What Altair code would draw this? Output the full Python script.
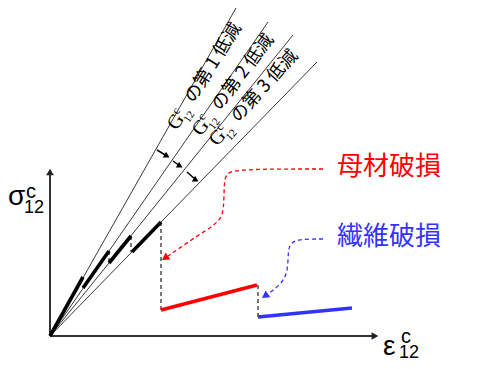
import altair as alt
import pandas as pd

# ---- data (origin of the sketch at 0,0; units ~ pixels) ----
ray_x = [186, 218, 243, 267]
ray_y = [328, 314, 301, 274]

seg_x0 = [0, 33, 59, 82]
seg_y0 = [0, 48, 73, 84]
seg_x1 = [33, 59, 81, 111]
seg_y1 = [59, 85, 100, 114]

drop_x = [59, 81, 111, 208]
drop_top = [85, 100, 114, 51]
drop_bot = [73, 84, 26, 19]

red_x = [111, 207]
red_y = [26, 51]
blue_x = [208, 302]
blue_y = [19, 28]

arr_x0 = [107, 123, 137]
arr_y0 = [186, 175, 164]
arr_x1 = [117, 130, 146]
arr_y1 = [180, 170, 156]

red_lead_x = [273, 185, 176, 174, 174, 170, 160, 150, 118]
red_lead_y = [167, 167, 162, 153, 126, 116, 108, 102, 80]
red_tip = (115, 78)
blue_lead_x = [273, 247, 240, 238, 238, 233, 222, 217]
blue_lead_y = [97, 97, 92, 84, 66, 54, 45, 41]
blue_tip = (215, 40)

label_x = [127, 151, 167]
label_y = [205, 199, 189]
label_angle = [302, 307, 312]
label_rest = ["の第 1 低減", "の第 2 低減", "の第 3 低減"]

RED = "#ff0000"
BLUE = "#3333ff"

xs = alt.Scale(domain=[-42, 429], nice=False, zero=False)
ys = alt.Scale(domain=[-25, 328], nice=False, zero=False)


def X(f="x"):
    return alt.X(f"{f}:Q", scale=xs, axis=None)


def Y(f="y"):
    return alt.Y(f"{f}:Q", scale=ys, axis=None)


rays = pd.DataFrame({"x": [0] * 4, "y": [0] * 4, "x2": ray_x, "y2": ray_y})
ray_layer = alt.Chart(rays).mark_rule(color="#222", strokeWidth=0.9).encode(
    x=X(), y=Y(), x2="x2:Q", y2="y2:Q")

segs = pd.DataFrame({"x": seg_x0, "y": seg_y0, "x2": seg_x1, "y2": seg_y1})
seg_layer = alt.Chart(segs).mark_rule(color="black", strokeWidth=3.6).encode(
    x=X(), y=Y(), x2="x2:Q", y2="y2:Q")

drops = pd.DataFrame({"x": drop_x, "y": drop_top, "y2": drop_bot})
drop_layer = alt.Chart(drops).mark_rule(color="#333", strokeWidth=1.3, strokeDash=[4, 3]).encode(
    x=X(), y=Y(), y2="y2:Q")

red = pd.DataFrame({"x": [red_x[0]], "y": [red_y[0]], "x2": [red_x[1]], "y2": [red_y[1]]})
red_layer = alt.Chart(red).mark_rule(color=RED, strokeWidth=3.6).encode(
    x=X(), y=Y(), x2="x2:Q", y2="y2:Q")
blue = pd.DataFrame({"x": [blue_x[0]], "y": [blue_y[0]], "x2": [blue_x[1]], "y2": [blue_y[1]]})
blue_layer = alt.Chart(blue).mark_rule(color=BLUE, strokeWidth=3.6).encode(
    x=X(), y=Y(), x2="x2:Q", y2="y2:Q")

# axes
axes = pd.DataFrame({"x": [0, 0], "y": [0, 0], "x2": [0, 322], "y2": [162, 0]})
axis_layer = alt.Chart(axes).mark_rule(color="#333", strokeWidth=2).encode(
    x=X(), y=Y(), x2="x2:Q", y2="y2:Q")
yhead = alt.Chart(pd.DataFrame({"x": [0], "y": [164]})).mark_point(
    shape="triangle-up", filled=True, size=60, color="#222", opacity=1).encode(x=X(), y=Y())
xhead = alt.Chart(pd.DataFrame({"x": [325], "y": [0]})).mark_point(
    shape="triangle-right", filled=True, size=60, color="#222", opacity=1).encode(x=X(), y=Y())

# small black arrows between rays
arrs = pd.DataFrame({"x": arr_x0, "y": arr_y0, "x2": arr_x1, "y2": arr_y1})
arr_layer = alt.Chart(arrs).mark_rule(color="black", strokeWidth=1.5).encode(
    x=X(), y=Y(), x2="x2:Q", y2="y2:Q")
arr_heads = alt.Chart(pd.DataFrame({"x": arr_x1, "y": arr_y1})).mark_point(
    shape="triangle-up", angle=120, filled=True, size=45, color="black", opacity=1).encode(x=X(), y=Y())

# leaders
rl = pd.DataFrame({"x": red_lead_x, "y": red_lead_y, "o": range(len(red_lead_x))})
red_lead = alt.Chart(rl).mark_line(color=RED, strokeWidth=1.3, strokeDash=[4, 3], interpolate="basis").encode(
    x=X(), y=Y(), order="o:Q")
red_head = alt.Chart(pd.DataFrame({"x": [red_tip[0]], "y": [red_tip[1]]})).mark_point(
    shape="triangle-up", angle=236, filled=True, size=70, color=RED, opacity=1).encode(x=X(), y=Y())
bl = pd.DataFrame({"x": blue_lead_x, "y": blue_lead_y, "o": range(len(blue_lead_x))})
blue_lead = alt.Chart(bl).mark_line(color=BLUE, strokeWidth=1.3, strokeDash=[4, 3], interpolate="basis").encode(
    x=X(), y=Y(), order="o:Q")
blue_head = alt.Chart(pd.DataFrame({"x": [blue_tip[0]], "y": [blue_tip[1]]})).mark_point(
    shape="triangle-up", angle=235, filled=True, size=70, color=BLUE, opacity=1).encode(x=X(), y=Y())


def txt(df, **kw):
    return alt.Chart(df).mark_text(**kw).encode(x=X(), y=Y(), text="t:N")


red_txt = txt(pd.DataFrame({"x": [287], "y": [169], "t": ["母材破損"]}),
              font="Noto Sans CJK JP", fontSize=26, color=RED, align="left", baseline="middle")
blue_txt = txt(pd.DataFrame({"x": [287], "y": [99], "t": ["繊維破損"]}),
               font="Noto Sans CJK JP", fontSize=26, color=BLUE, align="left", baseline="middle")

# axis titles
sig = txt(pd.DataFrame({"x": [-42], "y": [131], "t": ["σ"]}),
          font="Liberation Sans", fontSize=28, color="black", align="left", baseline="alphabetic")
sig_c = txt(pd.DataFrame({"x": [-24], "y": [138], "t": ["c"]}),
            font="Liberation Sans", fontSize=20, color="black", align="left", baseline="alphabetic")
sig_12 = txt(pd.DataFrame({"x": [-26], "y": [123], "t": ["12"]}),
             font="Liberation Sans", fontSize=18, color="black", align="left", baseline="alphabetic")
eps = txt(pd.DataFrame({"x": [333], "y": [-19], "t": ["ε"]}),
          font="Liberation Sans", fontSize=28, color="black", align="left", baseline="alphabetic")
eps_c = txt(pd.DataFrame({"x": [351], "y": [-7], "t": ["c"]}),
            font="Liberation Sans", fontSize=20, color="black", align="left", baseline="alphabetic")
eps_12 = txt(pd.DataFrame({"x": [349], "y": [-22], "t": ["12"]}),
             font="Liberation Sans", fontSize=18, color="black", align="left", baseline="alphabetic")

# rotated labels
rot = []
for lx, ly, la, rest in zip(label_x, label_y, label_angle, label_rest):
    d = lambda t: pd.DataFrame({"x": [lx], "y": [ly], "t": [t]})
    rot.append(txt(d("G"), font="Liberation Serif", fontSize=20, angle=la, align="left",
                   baseline="alphabetic", color="black"))
    rot.append(txt(d("c"), font="Liberation Serif", fontSize=12, angle=la, align="left",
                   baseline="alphabetic", color="black", dx=14, dy=-8))
    rot.append(txt(d("12"), font="Liberation Serif", fontSize=11, angle=la, align="left",
                   baseline="alphabetic", color="black", dx=13, dy=6))
    rot.append(txt(d(rest), font="Noto Sans CJK JP", fontSize=18, angle=la, align="left",
                   baseline="alphabetic", color="black", dx=32))

chart = alt.layer(
    ray_layer, axis_layer, yhead, xhead, drop_layer, seg_layer, red_layer, blue_layer,
    arr_layer, arr_heads, red_lead, red_head, blue_lead, blue_head,
    red_txt, blue_txt, sig, sig_c, sig_12, eps, eps_c, eps_12, *rot
).properties(width=471, height=353, padding=0, autosize="none").configure_view(stroke=None)

chart.save("out.html", embed_options={"renderer": "svg", "actions": False})
